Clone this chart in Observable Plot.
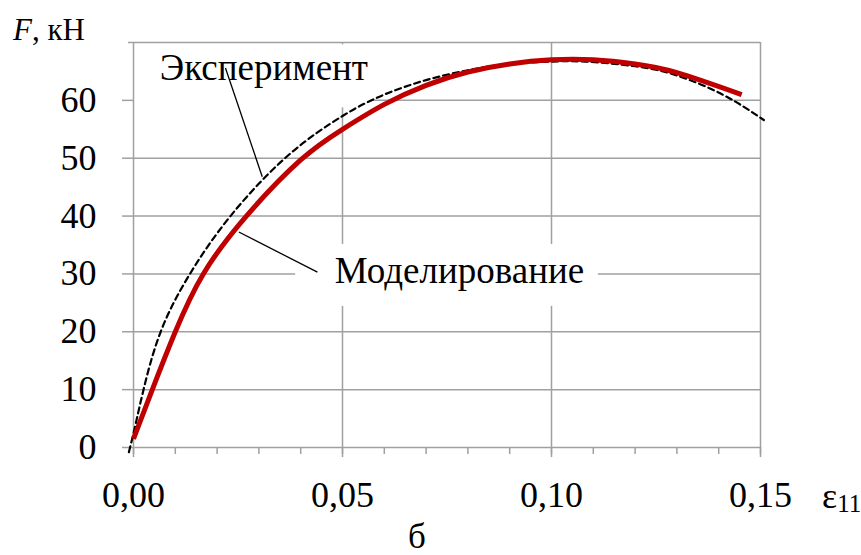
<!DOCTYPE html>
<html>
<head>
<meta charset="utf-8">
<script src="https://cdn.jsdelivr.net/npm/d3@7"></script>
<script src="https://cdn.jsdelivr.net/npm/@observablehq/plot@0.6"></script>
<style>
  html, body { margin: 0; padding: 0; background: #fff; }
  #chart { width: 861px; height: 555px; }
</style>
</head>
<body>
<div id="chart"></div>
<script>
// ---- data ----
const modelX = [0.000, 0.0045, 0.010, 0.0167, 0.027, 0.040, 0.050, 0.060, 0.070, 0.080, 0.090, 0.100, 0.110, 0.120, 0.130, 0.1455];
const modelY = [1.5, 10, 20, 30, 40, 49.7, 55.0, 59.3, 62.6, 64.9, 66.3, 67.0, 67.0, 66.3, 64.8, 61.0];

const expX = [-0.0011, 0.0005, 0.0024, 0.0065, 0.0135, 0.0232, 0.0367, 0.050, 0.060, 0.070, 0.080, 0.090, 0.100, 0.108, 0.120, 0.130, 0.1412, 0.1508];
const expY = [-0.8, 4, 10, 20, 30, 40, 50.3, 57.3, 61.0, 63.5, 65.2, 66.3, 66.7, 66.7, 65.9, 64.3, 60.9, 56.6];

const yTicks = [0, 10, 20, 30, 40, 50, 60];
const yGrid = [10, 20, 30, 40, 50, 60, 70];
const xMajor = [0, 0.05, 0.10, 0.15];
const xMinor = [0, 0.01, 0.02, 0.03, 0.04, 0.05, 0.06, 0.07, 0.08, 0.09, 0.10, 0.11, 0.12, 0.13, 0.14, 0.15];
const xGrid = [0.05, 0.10, 0.15];

const labelText = ["Эксперимент", "Моделирование"];
const labelX = [0.0312, 0.0780];
const labelY = [65.5, 30.5];
const boxX1 = [0.0, 0.0388], boxX2 = [0.0567, 0.1112];
const boxY1 = [58.7, 24.4], boxY2 = [69.6, 35.1];
const leaderX1 = [0.0220, 0.0440], leaderY1 = [65.6, 30.3];
const leaderX2 = [0.0308, 0.0252], leaderY2 = [46.8, 37.25];

// ---- tables ----
const model = modelX.map((x, i) => ({x, y: modelY[i]}));
const exper = expX.map((x, i) => ({x, y: expY[i]}));
const labels = labelText.map((t, i) => ({t, x: labelX[i], y: labelY[i]}));
const boxes = boxX1.map((x1, i) => ({x1, x2: boxX2[i], y1: boxY1[i], y2: boxY2[i]}));
const leaders = leaderX1.map((x1, i) => ({x1, y1: leaderY1[i], x2: leaderX2[i], y2: leaderY2[i]}));

const FONT = "'Liberation Serif', 'Times New Roman', serif";
const GRID = "#a0a0a0";
const fmtX = d => d.toFixed(2).replace(".", ",");

const plot = Plot.plot({
  width: 861,
  height: 555,
  marginLeft: 133,
  marginRight: 101,
  marginTop: 42,
  marginBottom: 108,
  style: {fontFamily: FONT, fontSize: "36px", color: "black", background: "white", overflow: "visible"},
  x: {domain: [0, 0.15]},
  y: {domain: [0, 70]},
  marks: [
    Plot.gridY(yGrid, {stroke: GRID, strokeOpacity: 1, strokeWidth: 1.5}),
    Plot.gridX(xGrid, {stroke: GRID, strokeOpacity: 1, strokeWidth: 1.5}),
    Plot.rect(boxes, {x1: "x1", x2: "x2", y1: "y1", y2: "y2", fill: "white"}),
    Plot.ruleX([0], {stroke: GRID, strokeWidth: 1.5}),
    Plot.ruleY([0], {stroke: GRID, strokeWidth: 1.5}),
    Plot.axisY(yTicks, {tickSize: 11, tickPadding: 26, stroke: GRID, strokeWidth: 1.5, fill: "black", fontSize: 36, label: null, tickFormat: d => String(d)}),
    Plot.axisY([70], {tickSize: 5, stroke: GRID, strokeWidth: 1.5, label: null, tickFormat: () => ""}),
    Plot.axisX(xMinor, {tickSize: 7, stroke: GRID, strokeWidth: 1.5, label: null, tickFormat: () => ""}),
    Plot.axisX(xMajor, {tickSize: 10, tickPadding: 24, stroke: GRID, strokeWidth: 1.5, fill: "black", fontSize: 36, label: null, tickFormat: fmtX}),
    Plot.link(leaders, {x1: "x1", y1: "y1", x2: "x2", y2: "y2", stroke: "black", strokeWidth: 1.3}),
    Plot.line(exper, {x: "x", y: "y", stroke: "black", strokeWidth: 2.2, strokeDasharray: "6,4", curve: "natural"}),
    Plot.line(model, {x: "x", y: "y", stroke: "#c00000", strokeWidth: 5, strokeLinecap: "butt", curve: "natural"}),
    Plot.text(labels, {x: "x", y: "y", text: "t", fill: "black", fontSize: 37})
  ]
});

document.getElementById("chart").appendChild(plot);

// outer labels as real text
const svg = d3.select(plot);
const fl = svg.append("text").attr("x", 13).attr("y", 40).attr("text-anchor", "start")
  .attr("font-family", FONT).attr("font-size", 31).attr("fill", "black");
fl.append("tspan").attr("font-style", "italic").text("F");
fl.append("tspan").text(", кН");

const el = svg.append("text").attr("x", 822).attr("y", 508).attr("text-anchor", "start")
  .attr("font-family", FONT).attr("font-size", 36).attr("fill", "black");
el.append("tspan").text("ε");
el.append("tspan").attr("font-size", 25).attr("dy", 4).text("11");

svg.append("text").attr("x", 417).attr("y", 548).attr("text-anchor", "middle")
  .attr("font-family", FONT).attr("font-size", 35).attr("fill", "black").text("б");
</script>
</body>
</html>
